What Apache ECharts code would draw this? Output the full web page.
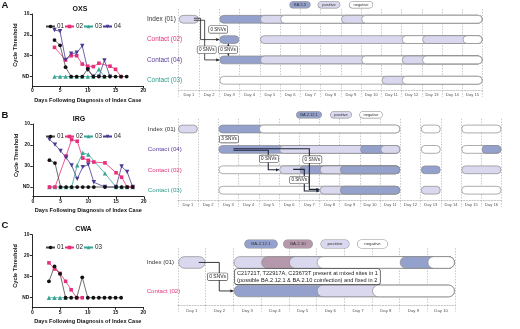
<!DOCTYPE html>
<html>
<head>
<meta charset="utf-8">
<script src="https://cdn.jsdelivr.net/npm/echarts@6/dist/echarts.min.js"></script>
<style>
  html, body { margin: 0; background: #fff; }
  #chart { width: 520px; height: 329px; }
</style>
</head>
<body>
<div id="chart"></div>
<script>
const FONT = '"Liberation Sans", Arial, sans-serif';
const ND = 40; // not detected

// ---- Ct curves, [day, Ct] (40 = ND)
const oxs01 = [[4,22.5],[5,25],[6,35.5],[7,ND],[8,ND],[9,ND],[10,36.3],[11,ND],[12,ND],[13,ND],[14,ND],[15,ND],[16,ND],[17,ND]];
const oxs02 = [[4,26],[6,32],[7,30],[8,30],[9,34],[10,35],[11,35.2],[12,33.6],[14,35],[15,36.5],[16,ND]];
const oxs03 = [[4,ND],[5,ND],[6,ND],[7,ND],[8,ND],[9,ND],[10,ND],[11,ND],[12,36.5],[13,ND]];
const oxs04 = [[4,17.7],[5,18.3],[6,32],[7,29],[8,28.6],[9,25.3],[10,36.8],[11,ND],[12,ND],[13,32.2],[14,ND]];

const irg01 = [[3,27.2],[4,28.6],[5,ND],[6,ND],[7,ND],[8,ND],[9,ND],[10,ND],[11,ND],[13,ND],[15,ND],[16,ND],[17,ND],[18,ND]];
const irg02 = [[3,ND],[4,ND],[6,25.2],[7,17.4],[8,18.2],[9,26.2],[10,27.3],[11,28.1],[13,28.5],[15,33.2],[16,35.3],[17,ND],[18,ND]];
const irg03 = [[3,ND],[4,ND],[5,ND],[6,ND],[7,ND],[8,29.6],[9,23.7],[10,24.5],[13,33.5],[15,ND],[16,ND],[17,ND],[18,ND]];
const irg04 = [[3,17.3],[4,19.8],[5,22.8],[6,26],[7,29.7],[8,36.1],[9,30.5],[10,29.3],[11,37.7],[13,ND],[15,ND],[16,30.2],[17,32.8],[18,ND]];

const cwa01 = [[3,32.2],[4,25.1],[5,28.6],[6,ND],[7,ND],[8,ND],[9,30.3],[10,ND],[11,ND],[12,ND],[13,ND],[14,ND],[15,ND],[16,ND]];
const cwa02 = [[3,23.4],[4,26.3],[5,28.4],[6,32.2],[7,36.2],[8,ND],[9,ND]];
const cwa03 = [[3,ND],[4,ND],[5,ND],[6,ND]];

const ctTicks = [10, 20, 30, 40];

// ---- test timelines: one code per day
// v = variant (BA.5.5 / BA.2.12.1), w = BA.2.10, p = positive, n = negative, . = no test
const daysA = ['Day 1','Day 2','Day 3','Day 4','Day 5','Day 6','Day 7','Day 8','Day 9','Day 10','Day 11','Day 12','Day 13','Day 14','Day 15'];
const rowsA = ['Index (01)', 'Contact (02)', 'Contact (04)', 'Contact (03)'];
const testsA = [
  'p.vvpnnnpnnnnnn',
  '..v.pppppppnppn',
  '..vvpppppnnpnnn',
  '..nnnnnnnnpnnnn'
];

const daysB = ['Day 1','Day 2','Day 3','Day 4','Day 5','Day 6','Day 7','Day 8','Day 9','Day 10','Day 11','Day 12','Day 13','Day 14','Day 15','Day 16'];
const rowsB = ['Index (01)', 'Contact (04)', 'Contact (02)', 'Contact (03)'];
const testsB = [
  'p.vvnnnnnnn.n.nn',
  '..vvvppppvp.n.nv',
  '..nnnpvpvvv.v.pp',
  '..nnnnnpvvv.p.nn'
];

const daysC = ['Day 1','Day 2','Day 3','Day 4','Day 5','Day 6','Day 7','Day 8','Day 9','Day 10'];
const rowsC = ['Index (01)', 'Contact (02)'];
const testsC = [
  'p.pwpnnnvn',
  '..vvvppnnn'
];

const legendA = [['BA.5.5', 'v'], ['positive', 'p'], ['negative', 'n']];
const legendB = [['BA.2.12.1', 'v'], ['positive', 'p'], ['negative', 'n']];
const legendC = [['BA.2.12.1', 'v'], ['BA.2.10', 'w'], ['positive', 'p'], ['negative', 'n']];

// transmission links: points as [day, row], heads 1 = end, 2 = both ends
const linksA = [
  [[[1.25, -0.05], [1.58, -0.05], [1.58, 1], [2.5, 1]], 1],
  [[[1.25, 0.05], [1.78, 0.05], [1.78, 2], [2.5, 2]], 1],
  [[[2.95, 1.2], [2.95, 1.8]], 2]
];
const linksB = [
  [[[3.25, 1.04], [4.97, 1.04], [4.97, 2], [5.5, 2]], 1],
  [[[3.25, 0.97], [7.0, 0.97], [7.0, 2.96], [7.5, 2.96]], 1],
  [[[6.2, 1.98], [6.75, 1.98], [6.75, 3.04], [7.5, 3.04]], 1]
];
const linksC = [
  [[[1.25, 0], [1.99, 0], [1.99, 1], [2.5, 1]], 1]
];

const snvA = [[2.45, 0.5, '0 SNVs'], [1.88, 1.5, '0 SNVs'], [2.93, 1.5, '0 SNVs']];
const snvB = [[3.03, 0.5, '3 SNVs'], [5.0, 1.46, '0 SNVs'], [7.15, 1.5, '0 SNVs'], [6.5, 2.5, '0 SNVs']];
const snvC = [[1.93, 0.5, '0 SNVs']];
const noteC = [[2.56, 0.5, 'C21721T, T22917A, C23673T present at mixed sites in 1\n(possible BA.2.12.1 & BA.2.10 coinfection) and fixed in 2']];

// ---- styles
const fills = { v: '#94a1cc', w: '#b598ac', p: '#d9d8ef', n: '#ffffff' };
const lineColors = { '01': '#111111', '02': '#e5317b', '03': '#38a595', '04': '#4b3b92' };
const symbols = { '01': 'circle', '02': 'rect', '03': 'triangle', '04': 'path://M0,0L10,0L5,9Z' };
const rowColorsA = ['#333333', '#e2347a', '#5a3c99', '#2f9b8d'];
const rowColorsB = ['#333333', '#5a3c99', '#e2347a', '#2f9b8d'];
const rowColorsC = ['#333333', '#e2347a'];
const dotted = { color: '#a2a2a2', width: 0.6, type: [1.4, 1.4] };

// split each row into pills (runs of tested days) and those into same-code segments
function segmentsOf(tests) {
  const out = [];
  tests.forEach(function (t, row) {
    let d = 0;
    while (d < t.length) {
      if (t[d] === '.') { d++; continue; }
      let end = d;
      while (end + 1 < t.length && t[end + 1] !== '.') end++;
      let s = d;
      while (s <= end) {
        let e = s;
        while (e + 1 <= end && t[e + 1] === t[s]) e++;
        out.push({ row: row, s: s, e: e, pe: end, code: t[s] });
        s = e + 1;
      }
      d = end + 1;
    }
  });
  return out;
}

// pixel point for a fractional [day, row] position on category axes
function at(api, day, row) {
  const x = day - 1;
  const xi = Math.floor(x), yi = Math.floor(row);
  const p = api.coord([xi, yi]);
  const sz = api.size([1, 1]);
  return [p[0] + (x - xi) * sz[0], p[1] + (row - yi) * sz[1]];
}

function pillRenderer(segs, h) {
  return function (params, api) {
    const g = segs[params.dataIndex];
    const bw = api.size([1, 1])[0];
    const a = api.coord([g.s, g.row]);
    const b = api.coord([g.pe, g.row]);
    const x0 = a[0] - bw / 2 + 0.6, x1 = b[0] + bw / 2 - 0.6;
    return {
      type: 'rect',
      z2: params.dataIndex,
      shape: { x: x0, y: a[1] - h / 2, width: x1 - x0, height: h, r: h / 2 },
      style: { fill: fills[g.code], stroke: '#8a8a8a', lineWidth: 0.7 }
    };
  };
}

function arrowHead(p, q, color) {
  const dx = q[0] - p[0], dy = q[1] - p[1];
  const L = Math.hypot(dx, dy) || 1;
  const ux = dx / L, uy = dy / L, len = 3, w = 1.6;
  const bx = q[0] - ux * len, by = q[1] - uy * len;
  return {
    type: 'polygon',
    shape: { points: [q, [bx - uy * w, by + ux * w], [bx + uy * w, by - ux * w]] },
    style: { fill: color }
  };
}

function linkRenderer(links, color, width) {
  return function (params, api) {
    const link = links[params.dataIndex];
    const px = link[0].map(function (p) { return at(api, p[0], p[1]); });
    const n = px.length;
    const kids = [{ type: 'polyline', shape: { points: px }, style: { stroke: color, lineWidth: width, fill: null } }];
    kids.push(arrowHead(px[n - 2], px[n - 1], color));
    if (link[1] === 2) kids.push(arrowHead(px[1], px[0], color));
    return { type: 'group', children: kids };
  };
}

function tagRenderer(tags, extra) {
  return function (params, api) {
    const t = tags[params.dataIndex];
    const p = at(api, t[0], t[1]);
    return {
      type: 'text',
      z2: 10,
      style: Object.assign({
        x: p[0], y: p[1], text: t[2], fill: '#222', fontFamily: FONT, fontSize: 4.6,
        align: 'center', verticalAlign: 'middle', backgroundColor: '#fff',
        borderColor: '#444', borderWidth: 0.6, borderRadius: 1.2, padding: [0.9, 1.4]
      }, extra || {})
    };
  };
}

function placeholders(n) {
  const d = [];
  for (let i = 0; i < n; i++) d.push([0, 0]);
  return d;
}

function custom(gi, data, renderItem, z) {
  return {
    type: 'custom', xAxisIndex: gi, yAxisIndex: gi, data: data,
    renderItem: renderItem, clip: false, z: z, silent: true, encode: { x: 0, y: 1 }
  };
}

function ctLine(name, data, gi) {
  const c = lineColors[name];
  return {
    type: 'line', name: name, data: data, xAxisIndex: gi, yAxisIndex: gi,
    symbol: symbols[name], symbolSize: name === '01' ? 3.8 : (name === '02' ? 3.6 : 4.4),
    itemStyle: { color: c },
    lineStyle: { color: name === '01' ? '#4a4a4a' : c, width: 0.8 },
    emphasis: { disabled: true }, silent: true
  };
}

function ctX(gi) {
  return {
    type: 'value', gridIndex: gi, min: 0, max: 20, interval: 5,
    name: 'Days Following Diagnosis of Index Case', nameLocation: 'middle', nameGap: 11,
    nameTextStyle: { fontSize: 5.6, fontWeight: 'bold', color: '#111' },
    axisLine: { show: true, lineStyle: { color: '#111', width: 0.9 } },
    axisTick: { show: true, length: 2.5, lineStyle: { color: '#111', width: 0.9 } },
    axisLabel: { fontSize: 5, fontWeight: 'bold', color: '#111', margin: 2.5 },
    splitLine: { show: false }
  };
}

function ctY(gi) {
  return {
    type: 'value', gridIndex: gi, inverse: true, min: 10, max: 44.5, interval: 10,
    name: 'Cycle Threshold', nameLocation: 'middle', nameGap: 13,
    nameTextStyle: { fontSize: 5.6, fontWeight: 'bold', color: '#111', padding: [0, 0, 0, 10] },
    axisLine: { show: true, lineStyle: { color: '#111', width: 0.9 } },
    axisTick: { show: true, length: 2.5, customValues: ctTicks, lineStyle: { color: '#111', width: 0.9 } },
    axisLabel: {
      customValues: ctTicks, fontSize: 4.8, fontWeight: 'bold', color: '#111', margin: 3,
      formatter: function (v) { return v === 40 ? 'ND' : (v > 40 ? '' : String(v)); }
    },
    splitLine: { show: false }
  };
}

function dayX(gi, days, fs, margin) {
  return {
    type: 'category', gridIndex: gi, data: days, boundaryGap: true,
    axisLine: { show: true, lineStyle: dotted },
    axisTick: { show: true, interval: 0, length: 6.5, lineStyle: dotted },
    axisLabel: { interval: 0, fontSize: fs, color: '#555', margin: margin },
    splitLine: { show: true, interval: 0, lineStyle: dotted }
  };
}

function rowY(gi, rows, colors, fs, margin) {
  return {
    type: 'category', gridIndex: gi, data: rows, inverse: true,
    axisLine: { show: false }, axisTick: { show: false }, splitLine: { show: false },
    axisLabel: {
      interval: 0, fontSize: fs, align: 'left', margin: margin,
      color: function (v, i) { return colors[i]; }
    }
  };
}

function ctLegend(top, names) {
  return {
    data: names, left: 40, top: top, orient: 'horizontal', selectedMode: false,
    itemWidth: 9, itemHeight: 4.5, itemGap: 0,
    textStyle: { fontSize: 6.3, color: '#222', padding: [0, 0, 0, -3] }
  };
}

function legendPills(items, xs, y, fs, pad) {
  return items.map(function (it, i) {
    return {
      type: 'text', x: xs[i], y: y, silent: true,
      style: {
        text: it[0], fontSize: fs, fontFamily: FONT, fill: '#333', align: 'center', verticalAlign: 'middle',
        backgroundColor: fills[it[1]], borderColor: '#8e8e8e', borderWidth: 0.6,
        borderRadius: 4, padding: pad
      }
    };
  });
}

function label(text, x, y, fs, bold) {
  return {
    type: 'text', x: x, y: y, silent: true,
    style: { text: text, fontSize: fs, fontWeight: bold ? 'bold' : 'normal', fontFamily: FONT, fill: '#111', align: 'center', verticalAlign: 'middle' }
  };
}

const segsA = segmentsOf(testsA), segsB = segmentsOf(testsB), segsC = segmentsOf(testsC);
const segData = function (segs) { return segs.map(function (g) { return [g.s, g.row]; }); };

const chart = echarts.init(document.getElementById('chart'), null, { renderer: 'canvas' });

chart.setOption({
  animation: false,
  textStyle: { fontFamily: FONT },
  grid: [
    { left: 32.3, top: 14, width: 111, height: 72, outerBoundsMode: 'none' },
    { left: 32.8, top: 124, width: 111, height: 72.5, outerBoundsMode: 'none' },
    { left: 32.3, top: 234.7, width: 111, height: 72.5, outerBoundsMode: 'none' },
    { left: 178.7, top: 9.1, width: 304, height: 81.3, outerBoundsMode: 'none' },
    { left: 177.8, top: 118.8, width: 323.8, height: 81.6, outerBoundsMode: 'none' },
    { left: 178, top: 248.2, width: 277, height: 57, outerBoundsMode: 'none' }
  ],
  xAxis: [ctX(0), ctX(1), ctX(2), dayX(3, daysA, 4.1, 2), dayX(4, daysB, 4.1, 2), dayX(5, daysC, 4.3, 3.5)],
  yAxis: [ctY(0), ctY(1), ctY(2),
    rowY(3, rowsA, rowColorsA, 6.4, 31.7), rowY(4, rowsB, rowColorsB, 6.2, 30), rowY(5, rowsC, rowColorsC, 6.1, 31.3)],
  legend: [
    ctLegend(18.5, ['01', '02', '03', '04']),
    ctLegend(128.5, ['01', '02', '03', '04']),
    ctLegend(239.5, ['01', '02', '03'])
  ],
  graphic: [
    label('A', 5, 5.5, 9.5, true),
    label('B', 5, 115.5, 9.5, true),
    label('C', 5, 225.5, 9.5, true),
    label('OXS', 80, 9, 7, true),
    label('IRG', 79, 119.5, 7, true),
    label('CWA', 83.5, 229.5, 7, true)
  ].concat(
    legendPills(legendA, [300, 329, 361], 4.8, 4, [1, 4]),
    legendPills(legendB, [309, 341, 371], 114.8, 4, [1, 3.5]),
    legendPills(legendC, [261, 298, 335, 372.5], 244, 4.4, [2, 6.5])
  ),
  series: [
    ctLine('03', oxs03, 0), ctLine('02', oxs02, 0), ctLine('04', oxs04, 0), ctLine('01', oxs01, 0),
    ctLine('03', irg03, 1), ctLine('02', irg02, 1), ctLine('04', irg04, 1), ctLine('01', irg01, 1),
    ctLine('03', cwa03, 2), ctLine('02', cwa02, 2), ctLine('01', cwa01, 2),

    custom(3, segData(segsA), pillRenderer(segsA, 7.8), 2),
    custom(4, segData(segsB), pillRenderer(segsB, 7.8), 2),
    custom(5, segData(segsC), pillRenderer(segsC, 11.6), 2),

    custom(3, placeholders(linksA.length), linkRenderer(linksA, '#222', 0.8), 3),
    custom(4, placeholders(linksB.length), linkRenderer(linksB, '#1f2638', 1.1), 3),
    custom(5, placeholders(linksC.length), linkRenderer(linksC, '#222', 0.9), 3),

    custom(3, placeholders(snvA.length), tagRenderer(snvA), 4),
    custom(4, placeholders(snvB.length), tagRenderer(snvB), 4),
    custom(5, placeholders(snvC.length), tagRenderer(snvC, { fontSize: 5 }), 4),
    custom(5, placeholders(noteC.length), tagRenderer(noteC, {
      align: 'left', fontSize: 5.6, lineHeight: 6.6, padding: [1, 2], borderRadius: 2, borderColor: '#333', borderWidth: 0.7
    }), 4)
  ]
});
</script>
</body>
</html>
